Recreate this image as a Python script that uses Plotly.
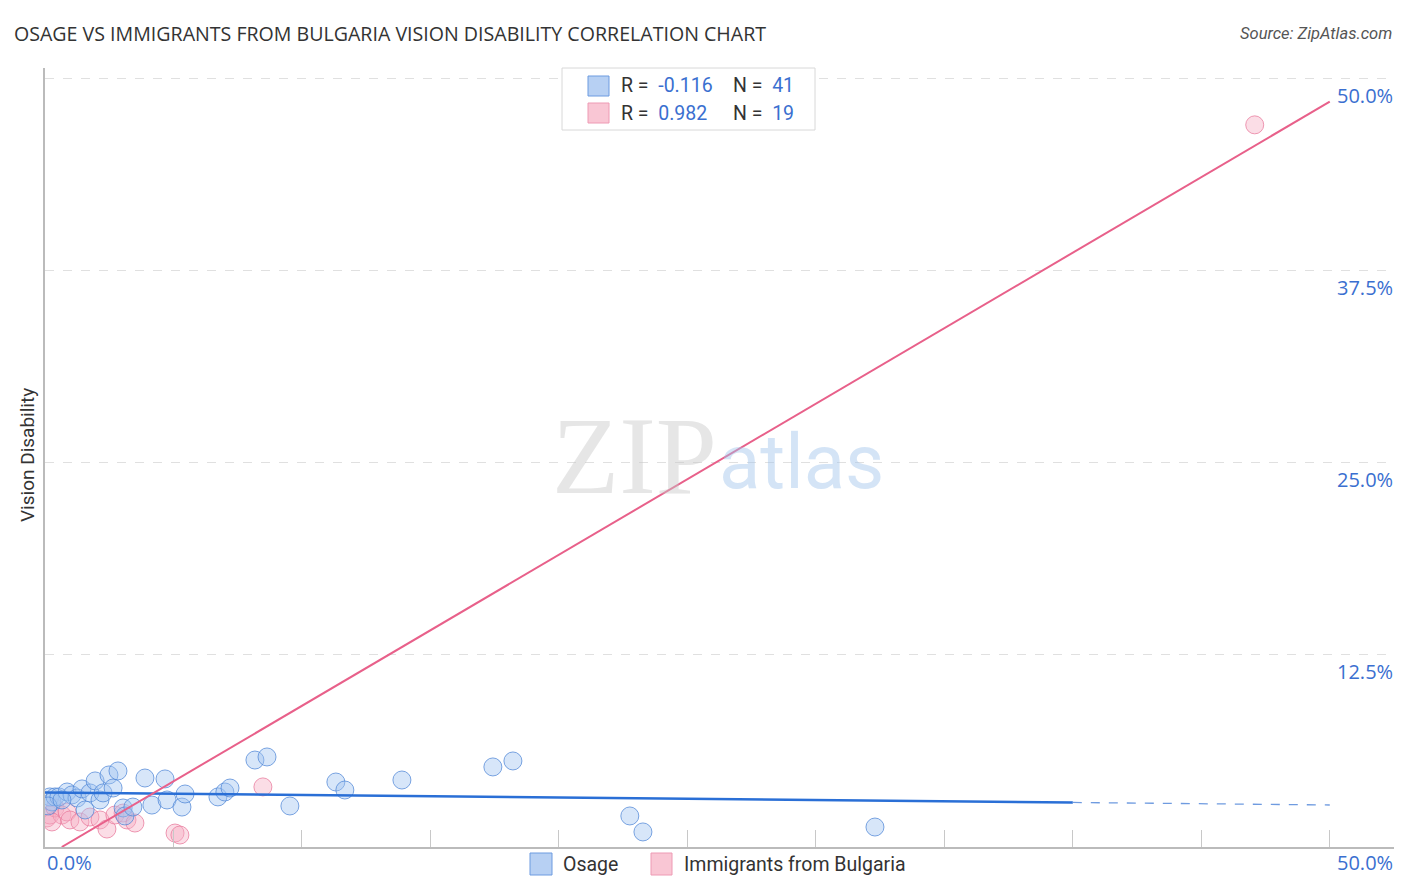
import plotly.graph_objects as go

# ---- data (percent) ----
osage_x = [0.19, 0.27, 0.39, 0.54, 0.86, 1.05, 1.25, 1.44, 1.56, 1.75, 1.95, 2.14, 2.26, 2.49, 2.65,
           2.84, 3.04, 3.11, 3.42, 3.89, 4.16, 4.67, 4.75, 5.33, 5.45, 6.73, 7.00, 7.20, 8.17, 8.64,
           9.53, 11.32, 11.67, 13.89, 17.43, 18.21, 22.76, 23.27, 32.30, 0.12, 0.66]
osage_y = [3.26, 2.93, 3.26, 3.26, 3.58, 3.39, 3.19, 3.78, 2.41, 3.52, 4.30, 3.06, 3.52, 4.69, 3.84,
           4.95, 2.54, 2.02, 2.60, 4.49, 2.73, 4.43, 3.06, 2.60, 3.45, 3.26, 3.58, 3.84, 5.66, 5.86,
           2.67, 4.23, 3.71, 4.36, 5.21, 5.60, 2.02, 0.98, 1.30, 2.67, 3.06]

bulg_x = [0.08, 0.19, 0.39, 0.66, 0.86, 0.97, 1.36, 1.75, 2.14, 2.41, 2.72, 3.04, 3.19, 3.50,
          5.06, 5.25, 8.48, 47.08, 0.27]
bulg_y = [1.89, 2.08, 2.54, 2.08, 2.28, 1.76, 1.63, 1.95, 1.76, 1.17, 2.08, 2.21, 1.76, 1.56,
          0.91, 0.78, 3.91, 47.0, 1.63]

# trend lines (intercept, slope)
osage_trend = (3.55, -0.0163)
osage_solid_end = 40.0
bulg_trend = (-0.64, 0.983)

y_ticks = [12.5, 25.0, 37.5, 50.0]
y_tick_labels = ["12.5%", "25.0%", "37.5%", "50.0%"]
x_ticks = [5, 10, 15, 20, 25, 30, 35, 40, 45, 50]

PINK = "#e8608a"
TXT_BLUE = "#3a6fd0"
FONT = "Roboto"
FONT2 = "Open Sans"

# page has an 8px body margin; figure drawn at (8, 8)
OFF = 8
L, R_, T, B = 45, 1394, 68, 847   # plot area in window pixels
def px(x):
    return (x - L) / (R_ - L)
def py(y):
    return (B - y) / (B - T)

fig = go.Figure()

fig.add_trace(go.Scatter(x=bulg_x, y=bulg_y, mode="markers",
                         marker=dict(size=18, color="rgba(246,175,196,0.42)",
                                     line=dict(color="rgba(232,120,155,0.75)", width=1)),
                         showlegend=False, hoverinfo="skip"))
fig.add_trace(go.Scatter(x=osage_x, y=osage_y, mode="markers",
                         marker=dict(size=18, color="rgba(160,195,240,0.42)",
                                     line=dict(color="rgba(80,135,215,0.75)", width=1)),
                         showlegend=False, hoverinfo="skip"))

b0, b1 = osage_trend
fig.add_trace(go.Scatter(x=[0, osage_solid_end], y=[b0, b0 + b1 * osage_solid_end], mode="lines",
                         line=dict(color="#2a6fd6", width=2.5), showlegend=False, hoverinfo="skip"))
fig.add_trace(go.Scatter(x=[osage_solid_end, 50], y=[b0 + b1 * osage_solid_end, b0 + b1 * 50],
                         mode="lines", line=dict(color="#6f9be0", width=1.3, dash="dash"),
                         showlegend=False, hoverinfo="skip"))
p0, p1 = bulg_trend
x_start = -p0 / p1
fig.add_trace(go.Scatter(x=[x_start, 50], y=[0, p0 + p1 * 50], mode="lines",
                         line=dict(color=PINK, width=2), showlegend=False, hoverinfo="skip"))

def ann(text, x, y, xanchor="left", size=18, color="#333333", family=FONT, **kw):
    d = dict(text=text, xref="paper", yref="paper", x=px(x), y=py(y), xanchor=xanchor,
             yanchor="middle", showarrow=False, font=dict(family=family, size=size, color=color))
    d.update(kw)
    return d

annotations = [
    ann("OSAGE VS IMMIGRANTS FROM BULGARIA VISION DISABILITY CORRELATION CHART", 12, 33,
        size=19.6, family=FONT2, color="#333333"),
    ann("<i>Source: ZipAtlas.com</i>", 1394, 33, xanchor="right", size=16.5, color="#555555"),
    ann("Vision Disability", 27, 455, xanchor="center", size=19, textangle=-90),
    ann("0.0%", 45, 863, size=20, color=TXT_BLUE, family=FONT2),
    ann("50.0%", 1395, 863, xanchor="right", size=20, color=TXT_BLUE, family=FONT2),
    ann("ZIP", 634, 456, xanchor="center", size=110, family="Liberation Serif",
        color="rgba(200,200,200,0.45)"),
    ann("atlas", 801, 462, xanchor="center", size=76, color="rgba(160,195,235,0.45)"),
    ann("R = <span style='color:%s'> -0.116</span>" % TXT_BLUE, 619, 86, size=19.5),
    ann("N = <span style='color:%s'> 41</span>" % TXT_BLUE, 731, 86, size=19.5),
    ann("R = <span style='color:%s'> 0.982</span>" % TXT_BLUE, 619, 113, size=19.5),
    ann("N = <span style='color:%s'> 19</span>" % TXT_BLUE, 731, 113, size=19.5),
    ann("Osage", 561, 864, size=19.5),
    ann("Immigrants from Bulgaria", 682, 864, size=19.5),
]
for v, lab in zip(y_ticks, y_tick_labels):
    annotations.append(dict(text=lab, xref="paper", yref="y", x=px(1395), y=v, yshift=-17,
                            xanchor="right", yanchor="middle", showarrow=False,
                            font=dict(family=FONT2, size=20, color=TXT_BLUE)))

def rect(x0, x1, y0, y1, line, fill, layer="above"):
    return dict(type="rect", xref="paper", yref="paper", x0=px(x0), x1=px(x1), y0=py(y0), y1=py(y1),
                line=dict(color=line, width=1), fillcolor=fill, layer=layer)

shapes = [
    rect(562, 815, 68, 130, "#d8d8d8", "white"),
    rect(588, 609, 76, 96, "#6d9be0", "#b7d0f3"),
    rect(588, 609, 103, 123, "#ee9ab4", "#f9c6d4"),
    rect(530, 552, 853, 875, "#6d9be0", "#b7d0f3"),
    rect(651, 672, 853, 875, "#ee9ab4", "#f9c6d4"),
]

fig.update_layout(
    width=1406 - OFF, height=892 - OFF,
    margin=dict(l=L - OFF, r=1406 - R_, t=T - OFF, b=892 - B),
    paper_bgcolor="white", plot_bgcolor="white",
    annotations=annotations, shapes=shapes,
    xaxis=dict(range=[0, 52.5], showgrid=False, zeroline=False, showline=True, linecolor="#bbbbbb",
               linewidth=1.5, tickvals=x_ticks, ticks="inside", ticklen=17, tickcolor="#c8c8c8",
               showticklabels=False, fixedrange=True),
    yaxis=dict(range=[0, 50.7], showgrid=True, gridcolor="#e0e0e0", griddash="dash", zeroline=False,
               showline=True, linecolor="#bbbbbb", linewidth=1.5, tickvals=y_ticks, ticks="",
               showticklabels=False, fixedrange=True),
)

fig.write_html("out.html")
